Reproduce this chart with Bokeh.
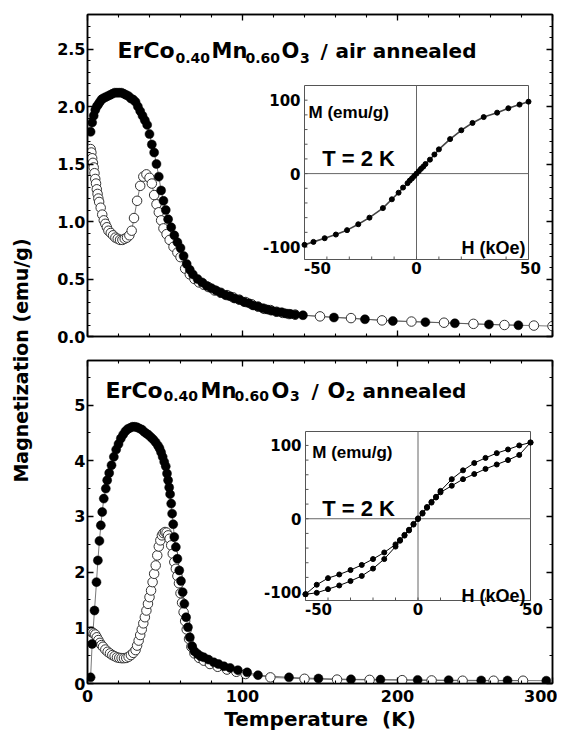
import math
from bokeh.plotting import figure
from bokeh.models import (Range1d, LinearAxis, FixedTicker, PrintfTickFormatter,
                          CustomJSTickFormatter, Label)
from bokeh.layouts import row, column
from bokeh.embed import file_html
from bokeh.resources import INLINE
from bokeh.core.properties import value

# ---------------- data: air annealed (top) ----------------
t_fc_air = [2, 3, 4, 5, 6, 7, 8, 9, 10, 11.5, 13, 14.5, 16, 17.5, 19, 20.5, 22, 23.5, 25, 26.5,
            28, 29.5, 31, 32.5, 34, 35.5, 37, 38.5, 40, 41.5, 43, 44.5, 46, 47.5, 49, 50.5, 52,
            54, 56, 58, 60, 62, 64, 66, 68, 71, 74, 77, 80, 83, 86, 89, 92, 95, 98, 101, 104,
            107, 110, 113, 116, 119, 122, 125, 128, 131, 134, 139, 159, 179, 197, 218, 237, 259, 278]
m_fc_air = [1.78, 1.86, 1.92, 1.97, 2.00, 2.02, 2.04, 2.06, 2.07, 2.08, 2.09, 2.10, 2.11, 2.12,
            2.12, 2.12, 2.12, 2.11, 2.10, 2.09, 2.07, 2.06, 2.04, 2.00, 1.96, 1.92, 1.88, 1.84,
            1.76, 1.67, 1.60, 1.50, 1.39, 1.27, 1.18, 1.10, 1.02, 0.95, 0.88, 0.82, 0.77, 0.70,
            0.63, 0.58, 0.54, 0.50, 0.47, 0.44, 0.42, 0.40, 0.38, 0.36, 0.35, 0.33, 0.32, 0.30,
            0.29, 0.27, 0.26, 0.245, 0.235, 0.225, 0.215, 0.21, 0.20, 0.195, 0.19, 0.185, 0.165,
            0.15, 0.135, 0.125, 0.115, 0.105, 0.098]

t_zfc_air = [2, 2.5, 3, 3.5, 4, 4.5, 5, 5.5, 6, 6.5, 7, 7.5, 8.5, 9.5, 10.5, 11.5, 12.5, 13.5,
             15, 16.5, 18, 19.5, 21, 22.5, 24, 25.5, 27, 28.5, 30, 32, 34, 36, 38, 40, 41.5, 43,
             44.5, 46, 47.5, 49, 51, 53, 55.5, 58, 60, 63, 66, 69, 72, 75, 78, 82, 86, 90, 94,
             98, 102, 106, 110, 114, 118, 122, 126, 130, 134, 150, 170, 190, 209, 230, 249, 269,
             288, 300]
m_zfc_air = [1.63, 1.60, 1.55, 1.51, 1.47, 1.42, 1.37, 1.33, 1.28, 1.24, 1.20, 1.17, 1.12, 1.06,
             1.01, 0.98, 0.95, 0.92, 0.90, 0.88, 0.86, 0.85, 0.84, 0.84, 0.85, 0.86, 0.88, 0.92,
             1.03, 1.18, 1.31, 1.39, 1.41, 1.38, 1.33, 1.23, 1.15, 1.08, 1.01, 0.94, 0.89, 0.84,
             0.78, 0.73, 0.69, 0.59, 0.54, 0.50, 0.47, 0.45, 0.43, 0.40, 0.38, 0.36, 0.34, 0.32,
             0.30, 0.28, 0.26, 0.24, 0.23, 0.215, 0.205, 0.195, 0.19, 0.175, 0.16, 0.14, 0.13,
             0.12, 0.11, 0.10, 0.095, 0.09]

# ---------------- data: O2 annealed (bottom) ----------------
t_fc_o2 = [2, 3, 4.5, 5.8, 6.7, 7.7, 8.6, 9.5, 10.5, 11.8, 12.7, 14, 15.5, 17, 18.5, 20, 21.5,
           23, 24.5, 26, 27.5, 29, 30.5, 32, 33.5, 35, 36.5, 38, 39.5, 41, 42.5, 44, 45.5, 46.5,
           47.5, 48.5, 49.5, 50.5, 51.3, 52, 52.7, 53.3, 54, 54.6, 55.3, 56, 57, 58, 59.2, 60.3,
           61.4, 62.5, 63.6, 64.8, 66, 67.5, 69, 71, 73, 75, 78, 81.5, 84.5, 88, 92, 97, 103,
           110, 130, 149, 170, 189, 213, 233, 254, 271, 296]
m_fc_o2 = [0.11, 0.71, 1.31, 1.82, 2.21, 2.56, 2.84, 3.08, 3.32, 3.50, 3.65, 3.78, 3.92, 4.07,
           4.20, 4.30, 4.40, 4.47, 4.53, 4.57, 4.59, 4.61, 4.61, 4.60, 4.58, 4.56, 4.52, 4.49,
           4.46, 4.42, 4.38, 4.33, 4.27, 4.22, 4.15, 4.07, 3.98, 3.90, 3.77, 3.65, 3.52, 3.40,
           3.23, 3.05, 2.86, 2.63, 2.45, 2.24, 2.03, 1.84, 1.64, 1.43, 1.19, 1.01, 0.83, 0.67,
           0.58, 0.53, 0.49, 0.47, 0.43, 0.38, 0.35, 0.31, 0.28, 0.24, 0.20, 0.15, 0.11, 0.09,
           0.075, 0.07, 0.065, 0.06, 0.055, 0.055, 0.05]

t_zfc_o2 = [1.5, 2.2, 3, 4, 5, 6, 7, 8, 9, 10, 11.5, 13, 14.5, 16, 17.5, 19, 20.5, 22, 23.5, 25,
            26.5, 28, 29.5, 31, 32, 33, 34, 35, 36, 37, 38, 39, 40, 41, 42, 43, 44, 45, 46, 47,
            48, 49, 50, 51, 52, 53, 54, 55, 56, 57, 58, 59, 60, 61, 62, 63, 64, 65.5, 67, 69,
            72, 75, 79, 84, 90, 96, 102, 118, 140, 161, 182, 203, 222, 242, 262, 281]
m_zfc_o2 = [0.83, 0.93, 0.92, 0.90, 0.88, 0.83, 0.78, 0.73, 0.69, 0.66, 0.61, 0.57, 0.54, 0.51,
            0.49, 0.47, 0.46, 0.455, 0.455, 0.46, 0.48, 0.51, 0.55, 0.60, 0.68, 0.77, 0.87, 0.97,
            1.08, 1.19, 1.31, 1.43, 1.55, 1.67, 1.82, 1.97, 2.12, 2.30, 2.46, 2.57, 2.66, 2.70,
            2.72, 2.71, 2.66, 2.60, 2.48, 2.33, 2.18, 2.06, 1.93, 1.80, 1.62, 1.45, 1.28, 1.12,
            0.97, 0.80, 0.66, 0.54, 0.46, 0.41, 0.35, 0.30, 0.25, 0.21, 0.17, 0.11, 0.085, 0.07,
            0.065, 0.06, 0.055, 0.05, 0.05, 0.05]

# ---------------- inset data: M(H) at 2 K ----------------
h_air = [-50, -46, -41, -36, -31, -26, -21, -15, -11, -8, -6, -4, -3, -2, -1, 0, 1, 2, 3, 4, 6,
         8, 10, 15, 20, 25, 30, 36, 41, 46, 50]
mh_air = [-97, -93, -88, -83, -77, -69, -60, -47, -35, -26, -19, -13, -9.5, -6.5, -3.2, 0, 3.2,
          6.5, 9.5, 13, 19, 26, 33, 47, 59, 69, 77, 83, 89, 94, 98]

h_o2_down = [50, 45, 40, 35, 30, 25, 20, 15, 10, 8, 6, 4, 2, 0, -2, -4, -6, -8, -10, -15, -20,
             -25, -30, -35, -40, -45, -50]
mh_o2_down = [104, 100, 94.5, 89.5, 83, 76, 66, 54, 38, 30, 23, 16, 8, 0.5, -7, -15, -22, -29,
              -35, -46, -55, -63, -70, -76, -81, -90, -103]
h_o2_up = [-50, -45, -40, -35, -30, -25, -20, -15, -10, -8, -6, -4, -2, 0, 2, 4, 6, 8, 10, 15,
           20, 25, 30, 35, 40, 45, 50]
mh_o2_up = [-103, -101, -96, -91, -85, -78, -68, -55, -38, -30, -23, -16, -8, -0.5, 7, 15, 22,
            29, 36, 45, 54, 61, 68, 74, 80, 87, 104]

# axis ticks
t_major = [0, 100, 200, 300]
t_minor = list(range(0, 301, 20))
m_air_major = [0.0, 0.5, 1.0, 1.5, 2.0, 2.5]
m_air_minor = [round(0.1 * i, 1) for i in range(0, 29)]
m_o2_major = [0, 1, 2, 3, 4, 5]
m_o2_minor = [0.5 * i for i in range(0, 12)]
h_ticks = [-50, 0, 50]
h_minor = list(range(-50, 51, 10))
mh_ticks = [-100, 0, 100]
mh_minor = list(range(-100, 101, 20))

FONT = "DejaVu Sans"
IFONT = "Liberation Sans"

# layout geometry (page pixels; the page has no margin)
LAB_W = 48          # width of the strip holding the shared y label
FL = 39             # frame left border
FW, FR = 465, 5     # frame width, right border
TOP1, FH1, BOT1 = 14, 322, 12
TOP2, FH2, BOT2 = 12, 323, 48
X0 = LAB_W + FL     # page x of frame left
Y1 = TOP1           # page y of top frame top
Y2 = TOP1 + FH1 + BOT1 + TOP2


def conf_axis(ax, ticker, fmt=None):
    ax.ticker = ticker
    ax.axis_line_color = "black"
    ax.axis_line_width = 1.5
    ax.major_tick_in = 6
    ax.major_tick_out = 0
    ax.minor_tick_in = 3
    ax.minor_tick_out = 0
    ax.major_tick_line_width = 1.3
    ax.minor_tick_line_width = 1.1
    ax.major_tick_line_color = "black"
    ax.minor_tick_line_color = "black"
    if fmt is None:
        ax.formatter = CustomJSTickFormatter(code="return ''")
        ax.major_label_text_font_size = "0px"
        ax.major_label_standoff = 0
    else:
        ax.formatter = fmt
        ax.major_label_text_font = FONT
        ax.major_label_text_font_style = "bold"
        ax.major_label_text_font_size = "16px"
        ax.major_label_text_color = "black"
        ax.major_label_standoff = 2


def make_panel(ymax, ymajor, yminor, yfmt, frame_h, top_b, bot_b, xlabels):
    p = figure(frame_width=FW, frame_height=frame_h, x_range=Range1d(0, 300),
               y_range=Range1d(0, ymax), output_backend="svg", toolbar_location=None,
               min_border_left=FL, min_border_right=FR, min_border_top=top_b,
               min_border_bottom=bot_b)
    p.grid.visible = False
    p.outline_line_color = "black"
    p.outline_line_width = 1.5
    p.background_fill_color = "white"
    p.border_fill_color = "white"
    conf_axis(p.left[0], FixedTicker(ticks=ymajor, minor_ticks=yminor), PrintfTickFormatter(format=yfmt))
    xt = FixedTicker(ticks=t_major, minor_ticks=t_minor)
    bx = p.below[0]
    if xlabels:
        conf_axis(bx, xt, PrintfTickFormatter(format="%d"))
    else:
        conf_axis(bx, xt)
    ra = LinearAxis()
    conf_axis(ra, FixedTicker(ticks=ymajor, minor_ticks=yminor))
    p.add_layout(ra, "right")
    ta = LinearAxis()
    conf_axis(ta, FixedTicker(ticks=t_major, minor_ticks=t_minor))
    p.add_layout(ta, "above")
    return p, bx


def draw_mt(p, t_fc, m_fc, t_zfc, m_zfc):
    p.line(t_zfc, m_zfc, line_color="#555555", line_width=0.8)
    p.line(t_fc, m_fc, line_color="#555555", line_width=0.8)
    p.scatter(t_zfc, m_zfc, marker="circle", size=9.5, fill_color="white",
              line_color="#333333", line_width=1)
    p.scatter(t_fc, m_fc, marker="circle", size=9, fill_color="black",
              line_color="black", line_width=0.5)


def add_inset(p, name, frame_w, frame_h, box_px, hlim, mlim, curves, txt):
    # box_px: (left, right, top, bottom) in pixels measured from the frame's top-left
    bl, br, bt, bb = box_px
    sx = (br - bl) / (hlim[1] - hlim[0])
    sy = (bb - bt) / (mlim[1] - mlim[0])
    xr, yr = name + "_h", name + "_m"
    p.extra_x_ranges[xr] = Range1d(hlim[0] - bl / sx, hlim[1] + (frame_w - br) / sx)
    p.extra_y_ranges[yr] = Range1d(mlim[0] - (frame_h - bb) / sy, mlim[1] + bt / sy)
    kw = dict(x_range_name=xr, y_range_name=yr)
    p.quad(left=hlim[0], right=hlim[1], bottom=mlim[0], top=mlim[1], fill_color="white",
           line_color="#555555", line_width=1, **kw)
    p.segment(x0=[0, hlim[0]], y0=[mlim[0], 0], x1=[0, hlim[1]], y1=[mlim[1], 0],
              line_color="#666666", line_width=1, **kw)
    p.ray(x=[hlim[0]] * len(mh_minor), y=mh_minor, length=3, length_units="screen", angle=0,
          line_color="#555555", line_width=1, **kw)
    p.ray(x=h_minor, y=[mlim[0]] * len(h_minor), length=3, length_units="screen",
          angle=math.pi / 2, line_color="#555555", line_width=1, **kw)
    p.text(x=[hlim[0]] * len(mh_ticks), y=mh_ticks, text=[str(v) for v in mh_ticks],
           text_align="right", text_baseline="middle", x_offset=-4,
           text_font=value(FONT), text_font_style="bold", text_font_size="15px",
           text_color="black", **kw)
    p.text(x=h_ticks, y=[mlim[0]] * len(h_ticks), text=[str(v) for v in h_ticks],
           text_align="center", text_baseline="top", x_offset=[13, 0, 2], y_offset=2,
           text_font=value(FONT), text_font_style="bold", text_font_size="15px",
           text_color="black", **kw)
    for hx, my, lc, lw in curves:
        p.line(hx, my, line_color=lc, line_width=lw, **kw)
        p.scatter(hx, my, marker="circle", size=5, fill_color="black", line_color="black", **kw)
    (mx, my_), (tx, ty), (hx_, hy) = txt
    p.text(x=[mx], y=[my_], text=["M (emu/g)"], text_align="left", text_baseline="alphabetic",
           text_font=value(IFONT), text_font_style="bold", text_font_size="17px",
           text_color="black", **kw)
    p.text(x=[tx], y=[ty], text=["T = 2 K"], text_align="left", text_baseline="alphabetic",
           text_font=value(IFONT), text_font_style="bold", text_font_size="22px",
           text_color="black", **kw)
    p.text(x=[hx_], y=[hy], text=["H (kOe)"], text_align="right", text_baseline="alphabetic",
           text_font=value(IFONT), text_font_style="bold", text_font_size="18px",
           text_color="black", **kw)


def title(p, parts, ytop, ymax, fh):
    # parts: (text, page-x of left edge, page-y of baseline, font size)
    for txt, px, py, size in parts:
        x = (px - X0) * 300.0 / FW
        y = ymax - (py - ytop) * ymax / fh
        p.add_layout(Label(x=x, y=y, text=txt, text_font=FONT, text_font_style="bold",
                           text_font_size=size, text_color="black", text_baseline="alphabetic"))


# ---------------- top panel ----------------
p1, bx1 = make_panel(2.8, m_air_major, m_air_minor, "%.1f", FH1, TOP1, BOT1, False)
draw_mt(p1, t_fc_air, m_fc_air, t_zfc_air, m_zfc_air)
add_inset(p1, "air", FW, FH1, (217, 441, 71, 245), (-50, 50), (-117, 120),
          [(h_air, mh_air, "#444444", 1.6)],
          ((-48.2, 83.6), (-42.1, 20.1), (48.7, -101.4)))
title(p1, [("ErCo", 117, 50, "22px"), ("0.40", 175, 57, "14px"),
           ("Mn", 211, 50, "21px"), ("0.60", 245, 57, "14px"),
           ("O", 281, 50, "21px"), ("3", 299.5, 57, "14px"),
           ("/", 320, 50, "20px"), ("air annealed", 335, 50, "20px")], Y1, 2.8, FH1)

# ---------------- bottom panel ----------------
p2, bx2 = make_panel(5.8, m_o2_major, m_o2_minor, "%d", FH2, TOP2, BOT2, True)
bx2.axis_label = "Temperature \u00a0(K)"
bx2.axis_label_text_font = FONT
bx2.axis_label_text_font_style = "bold"
bx2.axis_label_text_font_size = "20px"
bx2.axis_label_text_color = "black"
bx2.axis_label_standoff = 2
bx2.major_label_standoff = 6
draw_mt(p2, t_fc_o2, m_fc_o2, t_zfc_o2, m_zfc_o2)
add_inset(p2, "o2", FW, FH2, (218, 443, 71, 240), (-50, 50), (-111.5, 119),
          [(h_o2_down, mh_o2_down, "black", 1), (h_o2_up, mh_o2_up, "black", 1)],
          ((-47.0, 90.8), (-42.6, 13.5), (47.8, -106.0)))
title(p2, [("ErCo", 105, 390, "22px"), ("0.40", 163, 395, "14px"),
           ("Mn", 200, 390, "21px"), ("0.60", 234, 395, "14px"),
           ("O", 271, 390, "21px"), ("3", 289.5, 395, "14px"),
           ("/", 311, 390, "20px"), ("O", 327, 390, "21px"),
           ("2", 345, 395, "14px"), ("annealed", 362, 390, "20px")], Y2, 5.8, FH2)

# ---------------- shared y label ----------------
H_ALL = TOP1 + FH1 + BOT1 + TOP2 + FH2 + BOT2
lf = figure(width=LAB_W, height=H_ALL, x_range=Range1d(0, LAB_W), y_range=Range1d(0, H_ALL),
            output_backend="svg", toolbar_location=None, min_border=0,
            x_axis_type=None, y_axis_type=None)
lf.grid.visible = False
lf.outline_line_color = None
lf.add_layout(Label(x=20, y=H_ALL - 360, text="Magnetization (emu/g)", angle=math.pi / 2,
                    text_align="center", text_baseline="middle", text_font=FONT,
                    text_font_style="bold", text_font_size="19px", text_color="black"))

layout = row(lf, column(p1, p2))
open("out.html", "w").write(file_html(layout, INLINE))
